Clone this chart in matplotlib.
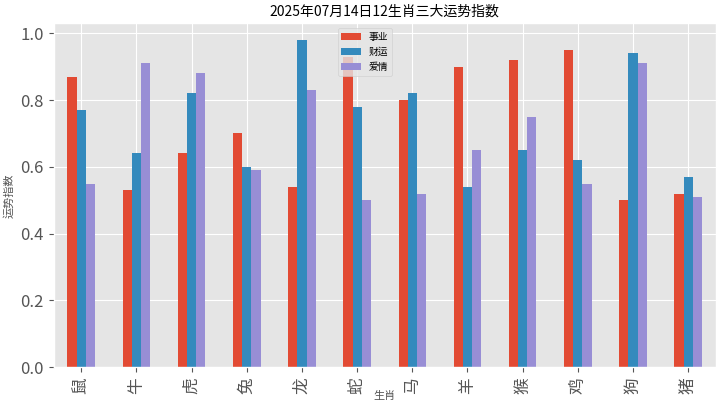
import matplotlib
matplotlib.use("Agg")
import matplotlib.pyplot as plt
import pandas as pd

plt.style.use("ggplot")
plt.rcParams["font.family"] = "sans-serif"
plt.rcParams["font.sans-serif"] = ["Noto Sans CJK SC", "Noto Sans CJK JP", "Noto Sans CJK TC", "DejaVu Sans"]
plt.rcParams["axes.unicode_minus"] = False

zodiac = ["鼠", "牛", "虎", "兔", "龙", "蛇", "马", "羊", "猴", "鸡", "狗", "猪"]
career = [0.87, 0.53, 0.64, 0.70, 0.54, 0.93, 0.80, 0.90, 0.92, 0.95, 0.50, 0.52]
wealth = [0.77, 0.64, 0.82, 0.60, 0.98, 0.78, 0.82, 0.54, 0.65, 0.62, 0.94, 0.57]
love = [0.55, 0.91, 0.88, 0.59, 0.83, 0.50, 0.52, 0.65, 0.75, 0.55, 0.91, 0.51]

df = pd.DataFrame({"事业": career, "财运": wealth, "爱情": love}, index=zodiac)
df.index.name = "生肖"

fig, ax = plt.subplots(figsize=(7.2, 4.05), dpi=100)
df.plot(kind="bar", ax=ax, rot=90)
ax.set_title("2025年07月14日12生肖三大运势指数", fontsize=10)
ax.set_ylabel("运势指数", fontsize=8)
ax.set_xlabel("生肖", fontsize=8, labelpad=-2)
ax.tick_params(axis="both", labelsize=12)
ax.legend(loc="upper center", fontsize=7, bbox_to_anchor=(0.47, 1.0))
fig.tight_layout(pad=0.3)
fig.savefig("out.png")
